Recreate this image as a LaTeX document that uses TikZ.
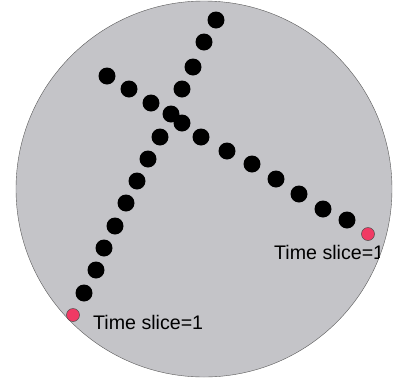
\documentclass[tikz,border=0pt]{standalone}
\usepackage{fontspec}
\setmainfont{Liberation Sans}
\usepackage{xcolor}
\usepackage{tikz}
\usetikzlibrary{positioning}

\definecolor{discgray}{RGB}{196,196,200}
\definecolor{slicered}{RGB}{240,58,100}

\tikzset{
  blob/.style={circle, fill=black, inner sep=0pt, minimum size=17bp},
  startdot/.style={circle, draw=black!70, fill=slicered, inner sep=0pt, minimum size=13bp, line width=0.5pt},
  slicelabel/.style={font=\fontsize{19.7}{23}\selectfont, inner sep=0pt, anchor=west}
}

\begin{document}
\begin{tikzpicture}[x=1bp, y=-1bp]
    \useasboundingbox (0,0) rectangle (398,381);
    \node[circle, draw=black!65, fill=discgray, minimum size=376bp, inner sep=0pt] (disc) at (204,189) {};

    % first track, rising to the upper right
    \foreach \i/\x/\y in {1/84/293, 2/96/270, 3/104/248, 4/115/226, 5/126/203, 6/137/181,
                          7/148/159, 8/160/137, 9/171/114, 10/182/89, 11/193/67, 12/204/42, 13/216/20}
        \node[blob] (a\i) at (\x,\y) {};

    % second track, falling to the lower right
    \foreach \i/\x/\y in {1/107/76, 2/129/89, 3/151/103, 4/182/123, 5/201/137, 6/227/151,
                          7/252/164, 8/276/179, 9/299/194, 10/323/209, 11/347/220}
        \node[blob] (b\i) at (\x,\y) {};

    \node[startdot] (sa) at (73,315) {};
    \node[startdot] (sb) at (368,234) {};

    \begin{scope}
        \clip (204,189) circle[radius=188];
        \node[slicelabel] (la) at (93,322) {Time slice=1};
        \node[slicelabel] (lb) at (274,252) {Time slice=1};
    \end{scope}
\end{tikzpicture}
\end{document}
